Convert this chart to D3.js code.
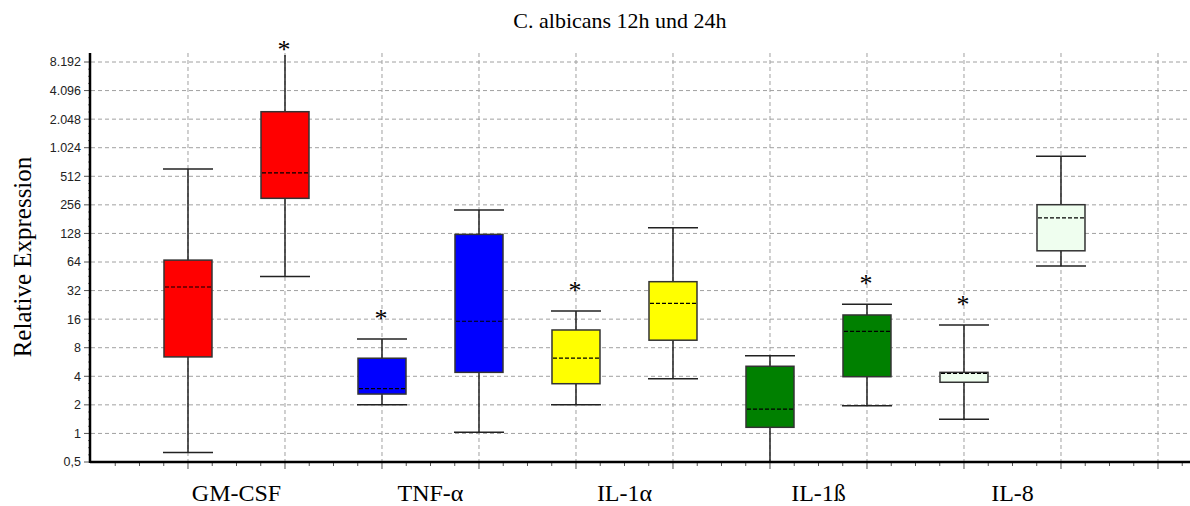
<!DOCTYPE html>
<html>
<head>
<meta charset="utf-8">
<script src="https://d3js.org/d3.v7.min.js"></script>
<style>
    body { margin: 0; background: #fff; }
    .grid line { stroke: #a0a0a0; stroke-width: 1px; stroke-dasharray: 4,3; }
    .box rect { stroke: #333; stroke-width: 1.5px; }
    .box line { stroke: #222; stroke-width: 1.5px; }
    .box .median { stroke: #000; stroke-width: 1.2px; stroke-dasharray: 4,2; }
    .serif { font-family: "Liberation Serif", "Times New Roman", serif; fill: #000; }
</style>
</head>
<body>
<svg id="chart" width="1190" height="506"></svg>
<script>
    // values (log2 axis)
    const cytokines = ["GM-CSF", "TNF-α", "IL-1α", "IL-1ß", "IL-8"];
    const timepoints = ["12h", "24h"];
    const cytokineColors = ["#ff0000", "#0000ff", "#ffff00", "#008000", "#effeef"];

    // one entry per box: GM-CSF 12h, GM-CSF 24h, TNF 12h, TNF 24h, ...
    const whiskerLow  = [0.63, 45,   2.0,  1.03, 2.0,  3.77, 0.5,  1.96, 1.41, 58];
    const q1          = [6.4,  300,  2.6,  4.4,  3.34, 9.6,  1.16, 3.96, 3.46, 84];
    const medians     = [34.9, 555,  2.96, 15.2, 6.2,  23.5, 1.8,  11.9, 4.3,  187];
    const q3          = [67,   2453, 6.2,  125,  12.3, 39.7, 5.1,  17.7, 4.4,  257];
    const whiskerHigh = [611,  9700, 9.9,  226,  19.5, 147,  6.6,  23,   13.9, 832];
    const significant = [false, true, true, false, true, false, false, true, true, false];

    const yTicks = [0.5, 1, 2, 4, 8, 16, 32, 64, 128, 256, 512, 1024, 2048, 4096, 8192];

    const boxes = whiskerLow.map((lo, i) => ({
        cytokine: cytokines[Math.floor(i / 2)],
        time: timepoints[i % 2],
        color: cytokineColors[Math.floor(i / 2)],
        slot: i + 1,
        lo: lo, q1: q1[i], med: medians[i], q3: q3[i], hi: whiskerHigh[i],
        star: significant[i]
    }));

    const svg = d3.select("#chart");
    const width = +svg.attr("width");
    const axisLeft = 91, axisBottom = 462, plotTop = 53;

    const x = d3.scaleLinear().domain([0, 11.33]).range([axisLeft, width]);
    const y = d3.scaleLog().base(2).domain([0.5, 8192]).range([axisBottom, 62]);
    const de = d3.formatLocale({decimal: ",", thousands: ".", grouping: [3], currency: ["", "€"]});
    const fmt = de.format(",");
    const boxW = 48;

    // grid
    const grid = svg.append("g").attr("class", "grid");
    grid.selectAll("line.h").data(yTicks.slice(1)).join("line")
        .attr("class", "h")
        .attr("x1", axisLeft).attr("x2", width)
        .attr("y1", d => y(d)).attr("y2", d => y(d));
    grid.selectAll("line.v").data(d3.range(1, 12)).join("line")
        .attr("class", "v")
        .attr("x1", d => x(d)).attr("x2", d => x(d))
        .attr("y1", plotTop).attr("y2", axisBottom);

    // boxes
    const g = svg.selectAll("g.box").data(boxes).join("g").attr("class", "box");
    g.append("line")
        .attr("x1", d => x(d.slot)).attr("x2", d => x(d.slot))
        .attr("y1", d => y(d.hi)).attr("y2", d => y(d.lo));
    g.append("line")
        .attr("x1", d => x(d.slot) - boxW / 2 - 1).attr("x2", d => x(d.slot) + boxW / 2 + 1)
        .attr("y1", d => y(d.hi)).attr("y2", d => y(d.hi))
        .style("display", d => y(d.hi) < plotTop + 5 ? "none" : null);
    g.append("line")
        .attr("x1", d => x(d.slot) - boxW / 2 - 1).attr("x2", d => x(d.slot) + boxW / 2 + 1)
        .attr("y1", d => y(d.lo)).attr("y2", d => y(d.lo));
    g.append("rect")
        .attr("x", d => x(d.slot) - boxW / 2)
        .attr("width", boxW)
        .attr("y", d => y(d.q3))
        .attr("height", d => y(d.q1) - y(d.q3))
        .attr("fill", d => d.color);
    g.append("line").attr("class", "median")
        .attr("x1", d => x(d.slot) - boxW / 2 + 1).attr("x2", d => x(d.slot) + boxW / 2 - 1)
        .attr("y1", d => y(d.med)).attr("y2", d => y(d.med));

    // significance stars
    svg.selectAll("text.star").data(boxes.filter(d => d.star)).join("text")
        .attr("class", "star serif")
        .attr("x", d => x(d.slot) - 1)
        .attr("y", d => Math.max(y(d.hi) - 26, 44) + 14)
        .attr("text-anchor", "middle")
        .style("font-size", "26px")
        .text("*");

    // x axis with quarter ticks
    const xAxis = svg.append("g");
    xAxis.selectAll("line").data(d3.range(1, 46).map(d => d / 4)).join("line")
        .attr("x1", d => x(d)).attr("x2", d => x(d))
        .attr("y1", axisBottom)
        .attr("y2", d => axisBottom + (d % 1 === 0 ? 7 : 4))
        .attr("stroke", "#555").attr("stroke-width", 1);
    xAxis.append("line")
        .attr("x1", axisLeft - 1).attr("x2", width)
        .attr("y1", axisBottom).attr("y2", axisBottom)
        .attr("stroke", "#000").attr("stroke-width", 2.5);

    // y axis
    const yAxis = svg.append("g");
    yAxis.selectAll("line.tick").data(yTicks).join("line")
        .attr("class", "tick")
        .attr("x1", axisLeft - 7).attr("x2", axisLeft)
        .attr("y1", d => y(d)).attr("y2", d => y(d))
        .attr("stroke", "#555");
    yAxis.selectAll("line.minor").data(d3.range(1, 57).map(k => 0.5 * Math.pow(2, k / 4)).filter((d, i) => (i + 1) % 4 !== 0))
        .join("line").attr("class", "minor")
        .attr("x1", axisLeft - 3).attr("x2", axisLeft)
        .attr("y1", d => y(d)).attr("y2", d => y(d))
        .attr("stroke", "#777");
    yAxis.selectAll("text").data(yTicks).join("text")
        .attr("x", axisLeft - 10)
        .attr("y", d => y(d))
        .attr("dy", "0.35em")
        .attr("text-anchor", "end")
        .style("font-family", "'Liberation Sans', Arial, sans-serif")
        .style("font-size", "12.5px")
        .style("fill", "#222")
        .text(d => fmt(d));
    yAxis.append("line")
        .attr("x1", axisLeft - 1).attr("x2", axisLeft - 1)
        .attr("y1", plotTop).attr("y2", axisBottom + 1)
        .attr("stroke", "#000").attr("stroke-width", 2.5);

    // category labels, centred under each pair of boxes
    svg.selectAll("text.cat").data(cytokines).join("text")
        .attr("class", "cat serif")
        .attr("x", (d, i) => (x(2 * i + 1) + x(2 * i + 2)) / 2)
        .attr("y", 501)
        .attr("text-anchor", "middle")
        .style("font-size", "24px")
        .text(d => d);

    // title and y label
    svg.append("text").attr("class", "serif")
        .attr("x", 620).attr("y", 28)
        .attr("text-anchor", "middle")
        .style("font-size", "22px")
        .text("C. albicans 12h und 24h");

    svg.append("text").attr("class", "serif")
        .attr("transform", "translate(31,257) rotate(-90)")
        .attr("text-anchor", "middle")
        .style("font-size", "25px")
        .text("Relative Expression");
</script>
</body>
</html>
